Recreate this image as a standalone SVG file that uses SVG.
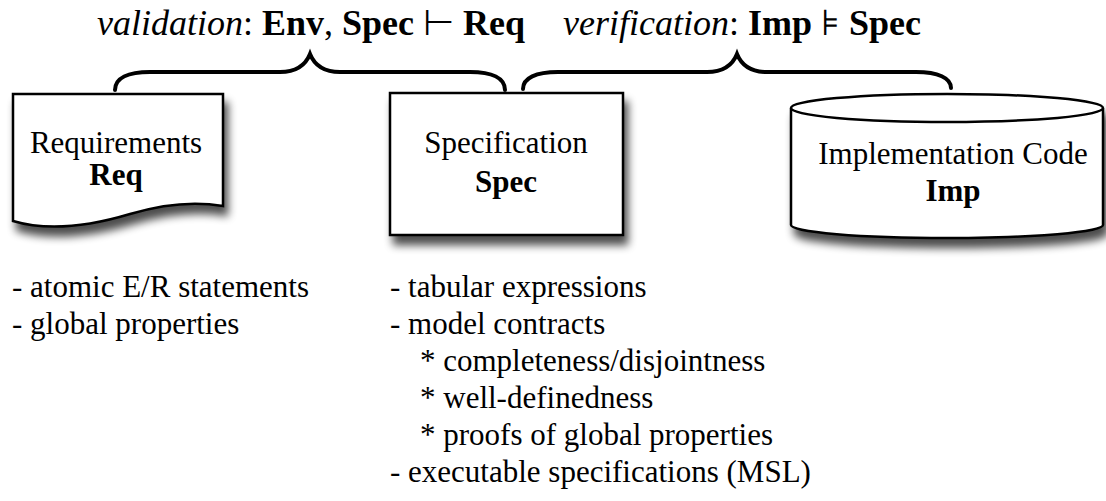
<svg xmlns="http://www.w3.org/2000/svg" width="1106" height="501" viewBox="0 0 1106 501">
<defs>
<filter id="sh" x="-20%" y="-20%" width="140%" height="160%">
<feGaussianBlur in="SourceAlpha" stdDeviation="4"/>
<feOffset dx="4" dy="9" result="b"/>
<feComponentTransfer><feFuncA type="linear" slope="0.7"/></feComponentTransfer>
<feMerge><feMergeNode/><feMergeNode in="SourceGraphic"/></feMerge>
</filter>
</defs>
<style>
.shape { fill: #fff; stroke: #000; stroke-width: 2.5; }
.brace { fill: none; stroke: #000; stroke-width: 4; stroke-linecap: round; }
</style>
<rect width="1106" height="501" fill="#fff"/>
<g id="title" font-family="Liberation Serif" font-size="36" fill="#000">
<text x="97" y="35" font-family="Liberation Serif"><tspan font-style="italic">validation</tspan>: <tspan font-weight="bold">Env</tspan>, <tspan font-weight="bold">Spec</tspan> ⊢ <tspan font-weight="bold">Req</tspan></text>
<text x="563" y="35" font-family="Liberation Serif"><tspan font-style="italic">verification</tspan>: <tspan font-weight="bold">Imp</tspan> ⊧ <tspan font-weight="bold">Spec</tspan></text>
</g>
<g id="connectors">
<path class="brace" d="M115,90 C115,78 128,72 150,72 L280,72 C298,72 306,64 310,54 C314,64 322,72 340,72 L470,72 C492,72 505,78 505,90"/>
<path class="brace" d="M523,89 C523,78 536,72 558,72 L707,72 C725,72 733,64 737,54 C741,64 749,72 767,72 L916,72 C938,72 951,78 951,88"/>
</g>
<g id="req" font-family="Liberation Serif" font-size="31" text-anchor="middle">
<path class="shape" filter="url(#sh)" d="M13,94 L223,94 L223,206 C200,202 170,202 130,214 C90,226 50,232 13,221 Z"/>
<text x="116" y="153" font-family="Liberation Serif">Requirements</text>
<text x="116" y="185" font-family="Liberation Serif" font-weight="bold">Req</text>
</g>
<g id="spec" font-family="Liberation Serif" font-size="31" text-anchor="middle">
<rect class="shape" filter="url(#sh)" x="390" y="93" width="233" height="142"/>
<text x="506" y="153" font-family="Liberation Serif">Specification</text>
<text x="506" y="192" font-family="Liberation Serif" font-weight="bold">Spec</text>
</g>
<g id="imp" font-family="Liberation Serif" font-size="31" text-anchor="middle">
<path class="shape" filter="url(#sh)" d="M791,108 A156,14 0 0 1 1103,108 L1103,225 A156,13 0 0 1 791,225 Z"/>
<path class="shape" d="M791,108 A156,14 0 0 0 1103,108" fill="none"/>
<text x="953" y="164" font-family="Liberation Serif">Implementation Code</text>
<text x="953" y="201" font-family="Liberation Serif" font-weight="bold">Imp</text>
</g>
<g id="notes" font-family="Liberation Serif" font-size="31">
<text x="12" y="297" font-family="Liberation Serif">- atomic E/R statements</text>
<text x="12" y="334" font-family="Liberation Serif">- global properties</text>
<text x="390" y="297" font-family="Liberation Serif">- tabular expressions</text>
<text x="390" y="334" font-family="Liberation Serif">- model contracts</text>
<text x="420" y="371" font-family="Liberation Serif">* completeness/disjointness</text>
<text x="420" y="408" font-family="Liberation Serif">* well-definedness</text>
<text x="420" y="445" font-family="Liberation Serif">* proofs of global properties</text>
<text x="390" y="482" font-family="Liberation Serif">- executable specifications (MSL)</text>
</g>
</svg>
